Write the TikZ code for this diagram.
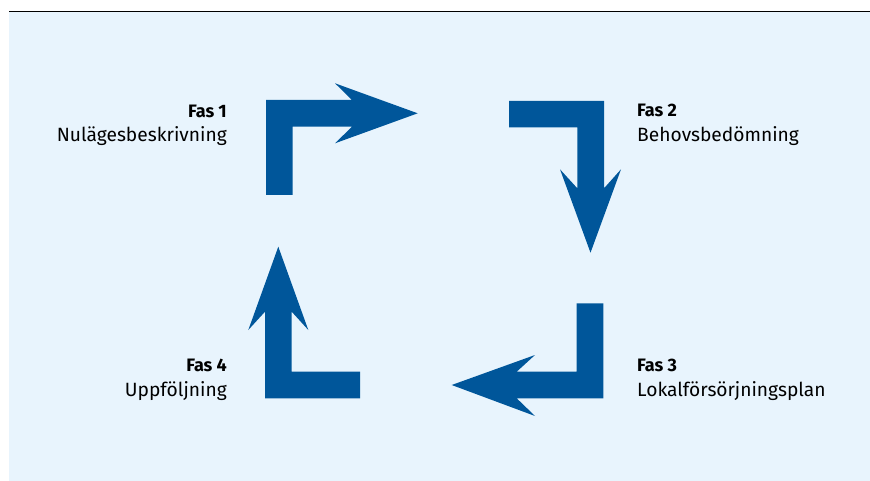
\documentclass[tikz,border=0pt]{standalone}
\usepackage{fontspec}
\setmainfont{Fira Sans}
\usepackage{xcolor}
\definecolor{fasblue}{HTML}{00569A}
\definecolor{fasbg}{HTML}{E8F4FD}
\tikzset{
	fasarrow/.style={fill=fasblue},
	fastitle/.style={inner sep=0pt,font=\fontsize{18}{22}\selectfont\bfseries},
	fastext/.style={inner sep=0pt,font=\fontsize{19.2}{23}\selectfont}
}

\begin{document}
\begin{tikzpicture}[x=1pt,y=-1pt]
			\useasboundingbox (0,0) rectangle (870,481);
			\fill[fasbg] (9,12.4) rectangle (870,481);
			\draw[line width=1.8pt] (9,11.5) -- (870,11.5);
			% fas 1
			\fill[fasarrow] (266,195) -- (266,100) -- (352,100) -- (335,83.3) -- (417.7,113.3)
				-- (335,143.3) -- (352,126.7) -- (292.7,126.7) -- (292.7,195) -- cycle;
			% fas 2
			\fill[fasarrow] (509,101) -- (604,101) -- (604,188.3) -- (621,169.3) -- (590.5,252.7)
				-- (560,169.3) -- (577.3,188.3) -- (577.3,127.3) -- (509,127.3) -- cycle;
			% fas 3
			\fill[fasarrow] (603.3,303.3) -- (603.3,398.3) -- (516.7,398.3) -- (535,416) -- (451.7,385)
				-- (535,355) -- (516.7,371.7) -- (576.7,371.7) -- (576.7,303.3) -- cycle;
			% fas 4
			\fill[fasarrow] (360,371.7) -- (360,398.3) -- (265,398.3) -- (265,311.7) -- (248.3,330)
				-- (278.3,246.7) -- (308.3,330) -- (291.7,311.7) -- (291.7,371.7) -- cycle;
			\node[fastitle,anchor=base east] (f1) at (227,117.3) {Fas 1};
			\node[fastext,anchor=base east] (t1) at (227,141.7) {Nulägesbeskrivning};
			\node[fastitle,anchor=base west] (f2) at (637,116.7) {Fas 2};
			\node[fastext,anchor=base west] (t2) at (637,141.7) {Behovsbedömning};
			\node[fastitle,anchor=base west] (f3) at (637,371.7) {Fas 3};
			\node[fastext,anchor=base west] (t3) at (637,396.7) {Lokalförsörjningsplan};
			\node[fastitle,anchor=base east] (f4) at (227,371.7) {Fas 4};
			\node[fastext,anchor=base east] (t4) at (227,396.7) {Uppföljning};
		\end{tikzpicture}
\end{document}
